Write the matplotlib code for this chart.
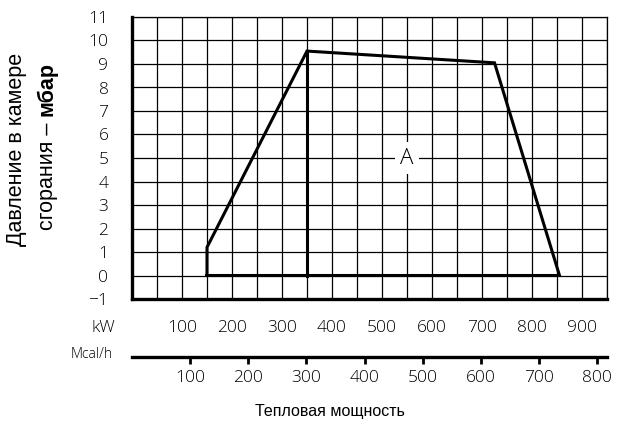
import matplotlib.pyplot as plt
from matplotlib.ticker import MultipleLocator
from matplotlib import font_manager

# 1 Mcal/h = 1.163 kW
KW_PER_MCAL = 1.163

# рабочее поле горелки (кВт, мбар)
field_kw = [150, 150, 350, 725, 855, 150]
field_mbar = [0, 1.2, 9.55, 9.05, 0, 0]
# граница между ступенями
split_kw = [350, 350]
split_mbar = [0, 9.55]

kw_ticks = [100, 200, 300, 400, 500, 600, 700, 800, 900]
mcal_ticks = [100, 200, 300, 400, 500, 600, 700, 800]
mbar_ticks = list(range(-1, 12))

for f in font_manager.fontManager.ttflist:
    if 'Light' in f.name or f.weight in (200, 300, 'light', 'extra-light'):
        print(f.name, f.weight, f.fname)

W, H = 619, 423
fig = plt.figure(figsize=(W / 100, H / 100), dpi=100)
ax = fig.add_axes([132 / W, (H - 299) / H, 475 / W, 282 / H])

tick_font = dict(family='Open Sans', weight='light', size=12.5)
text_font = 'Liberation Sans'

ax.set_xlim(0, 950)
ax.set_ylim(-1, 11)
ax.set_xticks(kw_ticks)
ax.xaxis.set_minor_locator(MultipleLocator(50))
ax.yaxis.set_major_locator(MultipleLocator(1))
ax.grid(True, which='both', color='black', linewidth=0.9)
ax.set_axisbelow(True)

for s in ['top', 'right']:
    ax.spines[s].set_linewidth(0.9)
for s in ['left', 'bottom']:
    ax.spines[s].set_linewidth(2.4)

ax.plot(field_kw, field_mbar, color='black', linewidth=2.2, solid_joinstyle='miter')
ax.plot(split_kw, split_mbar, color='black', linewidth=2.2)

ax.text(550, 5, 'A', ha='center', va='center', fontsize=16, family='Open Sans',
        weight='light', bbox=dict(facecolor='white', edgecolor='none', pad=4))

# ось кВт: только подписи
ax.set_xticklabels([str(v) for v in kw_ticks], fontdict=tick_font)
ax.tick_params(axis='x', which='both', length=0, pad=15)
ax.set_yticks(mbar_ticks)
ax.set_yticklabels([str(v).replace('-', '\u2212') for v in mbar_ticks], fontdict=tick_font)
ax.tick_params(axis='y', length=0, pad=17)

# вторая ось Mcal/h
sec = ax.secondary_xaxis(-58 / 282, functions=(lambda x: x / KW_PER_MCAL,
                                                lambda x: x * KW_PER_MCAL))
sec.set_xticks(mcal_ticks)
sec.set_xticklabels([str(v) for v in mcal_ticks], fontdict=tick_font)
sec.spines['bottom'].set_linewidth(2.4)
sec.tick_params(direction='out', length=5, width=2, pad=4)

fig.text(115 / W, (H - 328) / H, 'kW', ha='right', va='center', **tick_font)
fig.text(113 / W, (H - 354) / H, 'Mcal/h', ha='right', va='center',
         family='Open Sans', weight='light', size=10)

fig.text(330 / W, (H - 411) / H, 'Тепловая мощность', ha='center', va='center',
         family=text_font, size=11.5)

# подпись оси Y в две строки, «мбар» жирным
fig.text(17 / W, (H - 149) / H, 'Давление в камере', rotation=90,
         ha='center', va='center', family=text_font, size=15.5)
part = fig.text(47 / W, (H - 230) / H, 'сгорания – ', rotation=90,
                ha='center', va='bottom', family=text_font, size=15.5)
fig.canvas.draw()
bb = part.get_window_extent()
fig.text(47 / W, bb.y1 / H, 'мбар', rotation=90, ha='center', va='bottom',
         family=text_font, size=15.5, weight='bold')

fig.savefig('out.png', dpi=100)
